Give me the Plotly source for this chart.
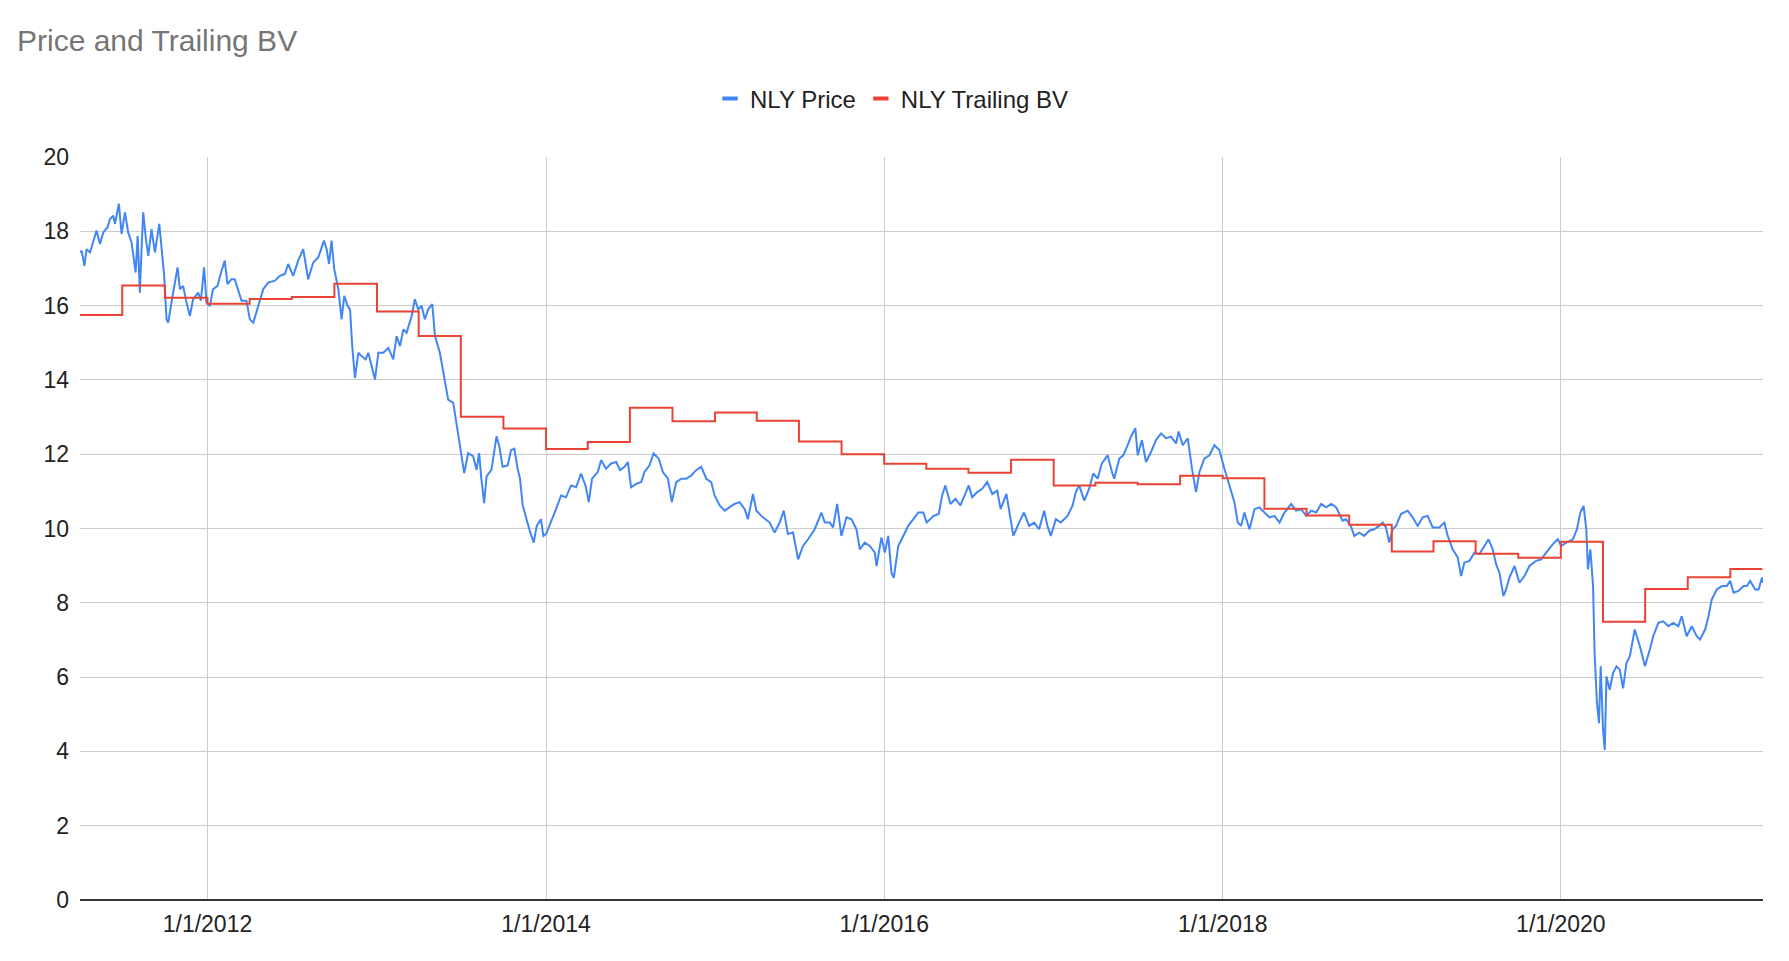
import datetime as dt
import plotly.graph_objects as go

# ---------------- data ----------------
# NLY price: dates as decimal years, values in $
price_years = [
    2011.246, 2011.256, 2011.272, 2011.285, 2011.305, 2011.325, 2011.344, 2011.364, 2011.384, 2011.409,
    2011.423, 2011.443, 2011.453, 2011.476, 2011.492, 2011.512, 2011.531, 2011.551, 2011.575, 2011.587,
    2011.600, 2011.610, 2011.620, 2011.636, 2011.650, 2011.669, 2011.689, 2011.715, 2011.728, 2011.744,
    2011.758, 2011.768, 2011.787, 2011.823, 2011.837, 2011.856, 2011.876, 2011.896, 2011.915, 2011.945,
    2011.961, 2011.980, 2011.994, 2012.014, 2012.033, 2012.059, 2012.083, 2012.102, 2012.118, 2012.142,
    2012.161, 2012.181, 2012.201, 2012.230, 2012.250, 2012.270, 2012.299, 2012.329, 2012.358, 2012.398,
    2012.427, 2012.457, 2012.476, 2012.506, 2012.535, 2012.565, 2012.594, 2012.624, 2012.654, 2012.687,
    2012.703, 2012.717, 2012.732, 2012.748, 2012.772, 2012.791, 2012.807, 2012.827, 2012.841, 2012.854,
    2012.870, 2012.890, 2012.909, 2012.933, 2012.949, 2012.969, 2012.988, 2013.008, 2013.037, 2013.067,
    2013.096, 2013.116, 2013.136, 2013.156, 2013.175, 2013.205, 2013.224, 2013.244, 2013.264, 2013.283,
    2013.303, 2013.327, 2013.343, 2013.372, 2013.402, 2013.421, 2013.451, 2013.480, 2013.500, 2013.516,
    2013.539, 2013.569, 2013.589, 2013.604, 2013.618, 2013.634, 2013.648, 2013.677, 2013.707,
    2013.724, 2013.743, 2013.773, 2013.793, 2013.812, 2013.832, 2013.846, 2013.862, 2013.882, 2013.901,
    2013.927, 2013.945, 2013.970, 2013.984, 2014.000, 2014.020, 2014.039, 2014.059, 2014.089, 2014.118,
    2014.148, 2014.178, 2014.207, 2014.233, 2014.253, 2014.272, 2014.306, 2014.326, 2014.355, 2014.385,
    2014.415, 2014.438, 2014.464, 2014.484, 2014.503, 2014.533, 2014.563, 2014.582, 2014.612, 2014.636,
    2014.667, 2014.691, 2014.721, 2014.744, 2014.770, 2014.800, 2014.829, 2014.859, 2014.888, 2014.918,
    2014.948, 2014.977, 2014.997, 2015.027, 2015.056, 2015.086, 2015.115, 2015.145, 2015.175, 2015.194,
    2015.224, 2015.244, 2015.283, 2015.323, 2015.352, 2015.382, 2015.406, 2015.431, 2015.461, 2015.491,
    2015.520, 2015.550, 2015.589, 2015.629, 2015.649, 2015.678, 2015.698, 2015.722, 2015.747, 2015.777,
    2015.807, 2015.836, 2015.856, 2015.885, 2015.915, 2015.945, 2015.955, 2015.984, 2016.004, 2016.024,
    2016.043, 2016.057, 2016.083, 2016.113, 2016.142, 2016.172, 2016.201, 2016.231, 2016.251,
    2016.292, 2016.322, 2016.342, 2016.361, 2016.391, 2016.421, 2016.450, 2016.480, 2016.499, 2016.519,
    2016.549, 2016.578, 2016.608, 2016.638, 2016.667, 2016.687, 2016.721, 2016.736, 2016.762, 2016.796,
    2016.825, 2016.855, 2016.885, 2016.914, 2016.944, 2016.963, 2016.983, 2017.013, 2017.042, 2017.082,
    2017.112, 2017.131, 2017.151, 2017.181, 2017.210, 2017.234, 2017.260, 2017.285, 2017.319, 2017.345,
    2017.358, 2017.388, 2017.412, 2017.437, 2017.457, 2017.483, 2017.497, 2017.522, 2017.546, 2017.576,
    2017.605, 2017.635, 2017.664, 2017.694, 2017.724, 2017.739, 2017.763, 2017.793, 2017.818, 2017.842,
    2017.862, 2017.891, 2017.921, 2017.951, 2017.980, 2018.010, 2018.039, 2018.069, 2018.089, 2018.109,
    2018.128, 2018.158, 2018.188, 2018.217, 2018.247, 2018.276, 2018.306, 2018.336, 2018.365, 2018.405,
    2018.434, 2018.464, 2018.494, 2018.523, 2018.553, 2018.582, 2018.612, 2018.642, 2018.671,
    2018.709, 2018.729, 2018.758, 2018.778, 2018.808, 2018.837, 2018.867, 2018.896, 2018.926, 2018.946,
    2018.965, 2018.985, 2019.005, 2019.025, 2019.054, 2019.094, 2019.123, 2019.153, 2019.183, 2019.212,
    2019.242, 2019.281, 2019.311, 2019.331, 2019.360, 2019.390, 2019.410, 2019.429, 2019.459, 2019.489,
    2019.518, 2019.548, 2019.572, 2019.597, 2019.617, 2019.637, 2019.660, 2019.676, 2019.696, 2019.726,
    2019.755, 2019.785, 2019.814, 2019.854, 2019.884, 2019.913, 2019.953, 2019.982, 2020.002, 2020.032,
    2020.071, 2020.095, 2020.115, 2020.134, 2020.150, 2020.160, 2020.174, 2020.190, 2020.199, 2020.213,
    2020.225, 2020.235, 2020.249, 2020.259, 2020.269, 2020.288, 2020.308, 2020.328, 2020.347, 2020.367,
    2020.387, 2020.407, 2020.436, 2020.466, 2020.496, 2020.525, 2020.545, 2020.575, 2020.604, 2020.634,
    2020.663, 2020.693, 2020.713, 2020.742, 2020.772, 2020.802, 2020.821, 2020.851, 2020.871, 2020.890,
    2020.920, 2020.950, 2020.979, 2020.999, 2021.019, 2021.048, 2021.078, 2021.098, 2021.117, 2021.147,
    2021.167, 2021.187, 2021.193,
]
price_values = [
    17.43, 17.48, 17.07, 17.52, 17.43, 17.75, 18.02, 17.66, 17.97, 18.11,
    18.33, 18.42, 18.20, 18.74, 17.93, 18.51, 17.97, 17.70, 16.89, 17.88,
    16.35, 17.52, 18.51, 17.79, 17.34, 18.06, 17.43, 18.20, 17.48, 16.80,
    15.63, 15.54, 16.08, 17.03, 16.44, 16.53, 16.08, 15.72, 16.17, 16.35,
    16.13, 17.03, 16.08, 15.99, 16.44, 16.53, 16.94, 17.21, 16.58, 16.71,
    16.71, 16.40, 16.13, 16.13, 15.63, 15.54, 15.99, 16.44, 16.62, 16.67,
    16.80, 16.85, 17.12, 16.80, 17.21, 17.52, 16.71, 17.16, 17.30, 17.75,
    17.52, 17.12, 17.75, 16.98, 16.44, 15.63, 16.26, 15.99, 15.90, 14.91,
    14.05, 14.73, 14.64, 14.55, 14.73, 14.37, 14.01, 14.73, 14.73, 14.86,
    14.55, 15.18, 14.91, 15.36, 15.27, 15.72, 16.17, 15.90, 15.99, 15.63,
    15.90, 16.04, 15.18, 14.73, 13.92, 13.47, 13.38, 12.48, 11.85, 11.49,
    12.03, 11.94, 11.58, 12.03, 11.31, 10.68, 11.40, 11.58, 12.48,
    12.20, 11.66, 11.70, 12.11, 12.15, 11.61, 11.34, 10.62, 10.25, 9.98,
    9.62, 10.07, 10.25, 9.80, 9.85, 10.07, 10.25, 10.52, 10.89, 10.84,
    11.16, 11.11, 11.48, 11.16, 10.71, 11.34, 11.52, 11.84, 11.61, 11.75,
    11.79, 11.57, 11.66, 11.79, 11.11, 11.20, 11.25, 11.52, 11.70, 12.02,
    11.88, 11.52, 11.34, 10.71, 11.25, 11.34, 11.34, 11.43, 11.57, 11.66,
    11.34, 11.25, 10.89, 10.62, 10.48, 10.57, 10.66, 10.71, 10.52, 10.25,
    10.93, 10.48, 10.30, 10.16, 9.89, 10.16, 10.48, 9.85, 9.89, 9.17,
    9.53, 9.71, 9.98, 10.43, 10.16, 10.16, 10.03, 10.66, 9.80, 10.30,
    10.25, 9.98, 9.44, 9.62, 9.53, 9.35, 8.99, 9.76, 9.35, 9.80,
    8.81, 8.67, 9.53, 9.80, 10.07, 10.25, 10.43, 10.43, 10.16,
    10.34, 10.39, 10.89, 11.16, 10.66, 10.80, 10.62, 10.98, 11.16, 10.84,
    10.98, 11.07, 11.25, 10.93, 11.02, 10.52, 10.93, 10.52, 9.80, 10.16,
    10.43, 10.07, 10.16, 9.98, 10.48, 10.07, 9.80, 10.25, 10.16, 10.34,
    10.62, 10.98, 11.16, 10.75, 11.07, 11.48, 11.34, 11.75, 11.97, 11.52,
    11.34, 11.88, 11.97, 12.24, 12.47, 12.70, 11.97, 12.38, 11.79, 12.06,
    12.38, 12.56, 12.43, 12.47, 12.29, 12.61, 12.24, 12.43, 11.61, 10.98,
    11.52, 11.88, 11.97, 12.24, 12.11, 11.61, 11.16, 10.71, 10.16, 10.07,
    10.43, 9.98, 10.52, 10.57, 10.43, 10.30, 10.34, 10.16, 10.43, 10.66,
    10.48, 10.52, 10.34, 10.48, 10.43, 10.66, 10.57, 10.66, 10.57,
    10.21, 10.25, 10.07, 9.80, 9.89, 9.80, 9.94, 9.98, 10.07, 10.16,
    10.03, 9.62, 9.98, 10.07, 10.39, 10.48, 10.30, 10.07, 10.30, 10.34,
    10.03, 10.03, 10.16, 9.80, 9.44, 9.22, 8.72, 9.08, 9.13, 9.35,
    9.31, 9.53, 9.71, 9.44, 9.04, 8.81, 8.18, 8.36, 8.68, 8.99,
    8.54, 8.72, 8.99, 9.13, 9.17, 9.35, 9.58, 9.71, 9.53, 9.62,
    9.71, 9.98, 10.43, 10.61, 9.98, 8.90, 9.44, 8.45, 6.65, 5.30,
    4.76, 6.29, 4.58, 4.04, 6.02, 5.66, 6.11, 6.29, 6.20, 5.70,
    6.38, 6.56, 7.28, 6.83, 6.29, 6.74, 7.10, 7.46, 7.50, 7.37,
    7.46, 7.37, 7.64, 7.10, 7.37, 7.10, 7.01, 7.28, 7.64, 8.09,
    8.36, 8.45, 8.45, 8.59, 8.27, 8.32, 8.45, 8.45, 8.59, 8.36,
    8.36, 8.68, 8.54,
]

# NLY trailing book value: value in force from each date onward (quarterly steps)
bv_dates = [
    "2011-04-01", "2011-07-01", "2011-10-01", "2012-01-01", "2012-04-01", "2012-07-01",
    "2012-10-01", "2013-01-01", "2013-04-01", "2013-07-01", "2013-10-01", "2014-01-01",
    "2014-04-01", "2014-07-01", "2014-10-01", "2015-01-01", "2015-04-01", "2015-07-01",
    "2015-10-01", "2016-01-01", "2016-04-01", "2016-07-01", "2016-10-01", "2017-01-01",
    "2017-04-01", "2017-07-01", "2017-10-01", "2018-01-01", "2018-04-01", "2018-07-01",
    "2018-10-01", "2019-01-01", "2019-04-01", "2019-07-01", "2019-10-01", "2020-01-01",
    "2020-04-01", "2020-07-01", "2020-10-01", "2021-01-01", "2021-03-11",
]
bv_values = [
    15.75, 16.54, 16.21, 16.05, 16.18, 16.23,
    16.59, 15.84, 15.18, 13.01, 12.69, 12.14,
    12.33, 13.25, 12.89, 13.12, 12.90, 12.34,
    12.00, 11.74, 11.61, 11.50, 11.85, 11.16,
    11.23, 11.19, 11.42, 11.35, 10.53, 10.35,
    10.10, 9.38, 9.66, 9.32, 9.21, 9.64,
    7.49, 8.37, 8.69, 8.91, 8.91,
]

x_tick_dates = ["2012-01-01", "2014-01-01", "2016-01-01", "2018-01-01", "2020-01-01"]
x_tick_text = ["1/1/2012", "1/1/2014", "1/1/2016", "1/1/2018", "1/1/2020"]
y_tick_vals = [0, 2, 4, 6, 8, 10, 12, 14, 16, 18, 20]

series_names = ["NLY Price", "NLY Trailing BV"]
series_colors = ["#4285F4", "#EA4335"]


def year_to_date(y):
    base = int(y)
    start = dt.datetime(base, 1, 1)
    end = dt.datetime(base + 1, 1, 1)
    return start + (end - start) * (y - base)


price_dates = [year_to_date(y) for y in price_years]

FONT = "Liberation Sans, Arial, sans-serif"
# the page body has an 8px margin; the figure is sized to fill the rest
W, H = 1781, 953

fig = go.Figure()
fig.add_trace(go.Scatter(
    x=price_dates, y=price_values, mode="lines", name=series_names[0],
    line=dict(color=series_colors[0], width=2), showlegend=False,
))
fig.add_trace(go.Scatter(
    x=bv_dates, y=bv_values, mode="lines", name=series_names[1],
    line=dict(color=series_colors[1], width=2, shape="hv"), showlegend=False,
))
# legend entries (short bar symbol, like the original)
for nm, col in zip(series_names, series_colors):
    fig.add_trace(go.Scatter(
        x=[None], y=[None], mode="markers", name=nm,
        marker=dict(symbol="line-ew", size=11, color=col, line=dict(color=col, width=4)),
    ))

fig.update_layout(
    width=W, height=H,
    paper_bgcolor="white", plot_bgcolor="white",
    margin=dict(l=72, r=26, t=149, b=61),
    font=dict(family=FONT, size=23, color="#222222"),
    title=dict(
        text="Price and Trailing BV", x=9 / W, xanchor="left", xref="container",
        y=1 - 32 / H, yanchor="middle", yref="container",
        font=dict(family=FONT, size=30, color="#757575"),
    ),
    legend=dict(
        orientation="h", xref="container", yref="container",
        x=884 / W, xanchor="center", y=1 - 91 / H, yanchor="middle",
        font=dict(family=FONT, size=24, color="#222222"),
        itemwidth=30, bgcolor="rgba(0,0,0,0)",
    ),
    showlegend=True,
)
fig.update_xaxes(
    type="date",
    range=[price_dates[0], price_dates[-1]],
    tickvals=x_tick_dates, ticktext=x_tick_text,
    showgrid=True, gridcolor="#cccccc", gridwidth=1,
    showline=False, zeroline=False, ticks="",
    ticklabelstandoff=8,
    tickfont=dict(family=FONT, size=23, color="#222222"),
)
fig.update_yaxes(
    range=[0, 20], tickvals=y_tick_vals,
    showgrid=True, gridcolor="#cccccc", gridwidth=1,
    zeroline=True, zerolinecolor="#333333", zerolinewidth=1.5,
    showline=False, ticks="",
    ticklabelstandoff=10,
    tickfont=dict(family=FONT, size=23, color="#222222"),
)

fig.write_html("out.html")
